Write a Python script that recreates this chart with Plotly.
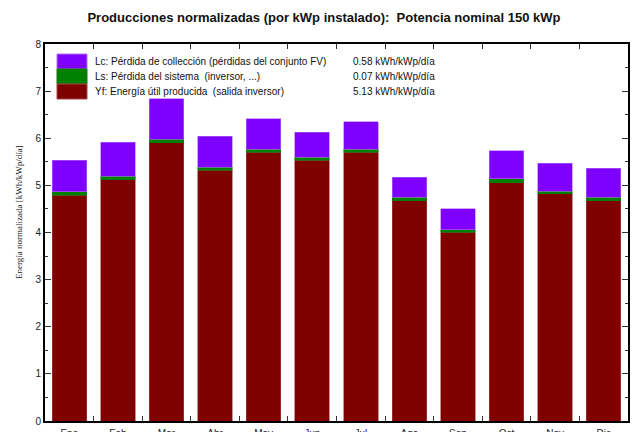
import plotly.graph_objects as go

months = ["Ene", "Feb", "Mar", "Abr", "May", "Jun", "Jul", "Ago", "Sep", "Oct", "Nov", "Dic"]
yf = [4.79, 5.12, 5.90, 5.32, 5.70, 5.53, 5.70, 4.67, 4.01, 5.06, 4.82, 4.67]
ls = [0.07, 0.07, 0.08, 0.07, 0.07, 0.07, 0.07, 0.08, 0.05, 0.08, 0.06, 0.08]
lc = [0.67, 0.72, 0.86, 0.65, 0.64, 0.53, 0.58, 0.42, 0.44, 0.59, 0.59, 0.61]

legend_labels = [
    "Lc: Pérdida de collección (pérdidas del conjunto FV)",
    "Ls: Pérdida del sistema  (inversor, ...)",
    "Yf: Energía útil producida  (salida inversor)",
]
legend_values = ["0.58 kWh/kWp/día", "0.07 kWh/kWp/día", "5.13 kWh/kWp/día"]
colors = ["#8000FF", "#008000", "#800000"]
edge_colors = ["#B070FF", "#107810", "#A04848"]

title_text = "Producciones normalizadas (por kWp instalado):\u00a0 Potencia nominal 150 kWp"
ylabel = "Energía normalizada [kWh/kWp/día]"

FONT = "Liberation Sans, Arial, sans-serif"

fig = go.Figure()
for vals, col, ec in [(yf, colors[2], edge_colors[2]), (ls, colors[1], edge_colors[1]), (lc, colors[0], edge_colors[0])]:
    fig.add_trace(go.Bar(x=months, y=vals, marker=dict(color=col, line=dict(color=ec, width=0.6)),
                         showlegend=False, hoverinfo="skip"))

# manual legend (paper coords inside plot area)
W, H, L, T = 583, 377, 45, 44
def px(x):
    return (x - L) / W
def py(y):
    return (T + H - y) / H

rows = [(54, 69), (69, 84), (84, 99)]
for i, (y0, y1) in enumerate(rows):
    fig.add_shape(type="rect", xref="paper", yref="paper", x0=px(57), x1=px(87), y0=py(y1), y1=py(y0),
                  fillcolor=colors[i], line=dict(color=edge_colors[i], width=1), layer="above")
    yc = py((y0 + y1) / 2)
    fig.add_annotation(xref="paper", yref="paper", x=px(93), y=yc, text=legend_labels[i], showarrow=False,
                       xanchor="left", yanchor="middle", font=dict(family=FONT, size=10, color="#111"))
    fig.add_annotation(xref="paper", yref="paper", x=px(437), y=yc, text=legend_values[i], showarrow=False,
                       xanchor="right", yanchor="middle", font=dict(family=FONT, size=10, color="#111"))

fig.add_annotation(xref="paper", yref="paper", x=px(19), y=py(212), text=ylabel, textangle=-90,
                   showarrow=False, xanchor="center", yanchor="middle",
                   font=dict(family="Liberation Serif, Times New Roman, serif", size=9, color="#222"))

fig.update_layout(
    width=635, height=432,
    margin=dict(l=45, r=7, t=44, b=11, autoexpand=False),
    paper_bgcolor="white", plot_bgcolor="white",
    barmode="stack", bargap=0.29,
    title=dict(text=title_text, x=324 / 635, xanchor="center", y=1 - 17 / 432, yanchor="middle",
               font=dict(family=FONT, size=13, color="#111", weight="bold")),
    font=dict(family=FONT, size=10, color="#222"),
)
fig.update_xaxes(type="category", tickson="boundaries", ticks="inside", ticklen=5, tickwidth=1,
                 tickcolor="#333", showline=True, linecolor="black", linewidth=2, mirror="allticks",
                 showgrid=False, automargin=False, ticklabelstandoff=2,
                 tickfont=dict(size=10, color="#222"))
fig.update_yaxes(range=[0, 8], dtick=1, ticks="inside", ticklen=6, tickwidth=1, tickcolor="#333",
                 showline=True, linecolor="black", linewidth=2, mirror="allticks", showgrid=False,
                 zeroline=False, automargin=False, tickfont=dict(size=10, color="#222"),
                 minor=dict(dtick=0.5, ticks="inside", ticklen=3, tickcolor="#333", showgrid=False))

fig.write_html("out.html", config={"displayModeBar": False},
               post_script="document.body.style.margin='0';document.body.style.overflow='hidden';")
